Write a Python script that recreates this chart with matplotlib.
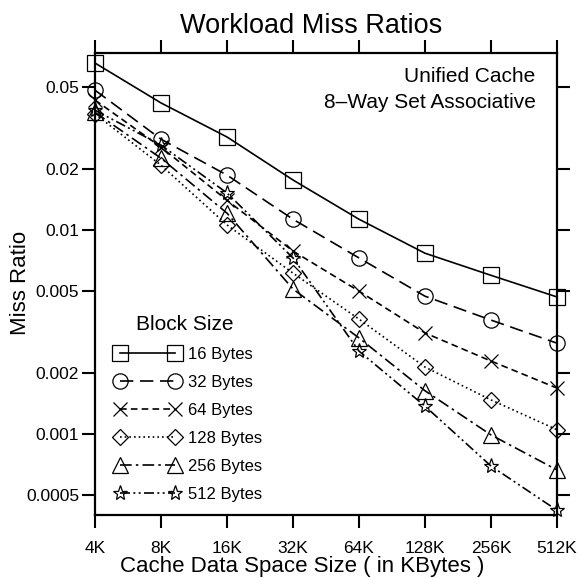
import numpy as np
from matplotlib import pyplot as plt
from matplotlib.lines import Line2D
from matplotlib.legend_handler import HandlerLine2D

plt.rcParams["font.family"] = ["Liberation Sans", "DejaVu Sans"]

# cache sizes (x axis, log2 spacing) and miss ratios per block size
cache_sizes = ["4K", "8K", "16K", "32K", "64K", "128K", "256K", "512K"]
miss_16 = [0.0659, 0.0420, 0.0286, 0.0176, 0.0113, 0.0077, 0.0060, 0.0047]
miss_32 = [0.0485, 0.0279, 0.0186, 0.0113, 0.0073, 0.00474, 0.00362, 0.00279]
miss_64 = [0.0434, 0.0255, 0.0140, 0.00789, 0.00502, 0.00313, 0.00228, 0.00168]
miss_128 = [0.0371, 0.0208, 0.0106, 0.00615, 0.00366, 0.00213, 0.00147, 0.00105]
miss_256 = [0.0378, 0.0225, 0.0121, 0.00514, 0.00296, 0.00163, 0.00099, 0.000667]
miss_512 = [0.0387, 0.0261, 0.0152, 0.0073, 0.00255, 0.00137, 0.000697, 0.000423]

block_labels = ["16 Bytes", "32 Bytes", "64 Bytes", "128 Bytes", "256 Bytes", "512 Bytes"]
yticks = [0.05, 0.02, 0.01, 0.005, 0.002, 0.001, 0.0005]
ytick_labels = ["0.05", "0.02", "0.01", "0.005", "0.002", "0.001", "0.0005"]

series = [miss_16, miss_32, miss_64, miss_128, miss_256, miss_512]
markers = ["s", "o", "x", "D", "^", "*"]
msizes = [11, 11, 10, 8, 11, 11]
styles = ["-", (0, (8, 4)), (0, (4, 2.5)), (0, (1, 1.8)),
          (0, (7, 2.5, 1.5, 2.5)), (0, (6, 2, 1.2, 2, 1.2, 2))]

fig = plt.figure(figsize=(5.82, 5.78), dpi=100)
ax = fig.add_axes([95 / 582, 63 / 578, 462 / 582, 462 / 578])

x = np.arange(len(cache_sizes))
for vals, mk, ms, ls, lab in zip(series, markers, msizes, styles, block_labels):
    ax.plot(x, vals, color="k", lw=1.2, ls=ls, marker=mk, ms=ms,
            mfc="none", mec="k", mew=0.9, label=lab, clip_on=False)

ax.set_yscale("log")
ax.set_xlim(0, 7)
ax.set_ylim(0.000401, 0.0738)
ax.set_xticks(x)
ax.set_xticklabels(cache_sizes, fontsize=12.5)
ax.set_yticks(yticks)
ax.set_yticklabels(ytick_labels, fontsize=12.5)
ax.minorticks_off()
ax.tick_params(direction="out", length=9.5, width=1.5, top=True, right=True)
ax.tick_params(axis="x", pad=9)
ax.tick_params(axis="y", pad=2)
for sp in ax.spines.values():
    sp.set_linewidth(1.6)

ax.set_xlabel("Cache Data Space Size ( in KBytes )", fontsize=16)
ax.xaxis.set_label_coords((302 - 95) / 462, -(556 - 515) / 462)
ax.xaxis.label.set_va("top")
fig.text(21 / 582, 1 - 283 / 578, "Miss Ratio", fontsize=16, rotation=90,
         ha="center", va="center")
fig.text(311 / 582, 1 - 33 / 578, "Workload Miss Ratios", fontsize=19.5,
         ha="center", va="baseline")

ax.text(0.954, 1 - (82 - 53) / 462, "Unified Cache", transform=ax.transAxes,
        ha="right", va="baseline", fontsize=15)
ax.text(0.954, 1 - (108 - 53) / 462, "8\u2013Way Set Associative", transform=ax.transAxes,
        ha="right", va="baseline", fontsize=15)

leg = ax.legend(loc="upper left", bbox_to_anchor=(0.025, 0.462), frameon=False,
                numpoints=2, handlelength=3.3, fontsize=12, labelspacing=0.78,
                title="Block Size", title_fontsize=15, handletextpad=0.8,
                borderpad=0.3, handler_map={Line2D: HandlerLine2D(marker_pad=0)})
leg.get_title().set_position((-6, 0))

fig.savefig("out.png", dpi=100)
